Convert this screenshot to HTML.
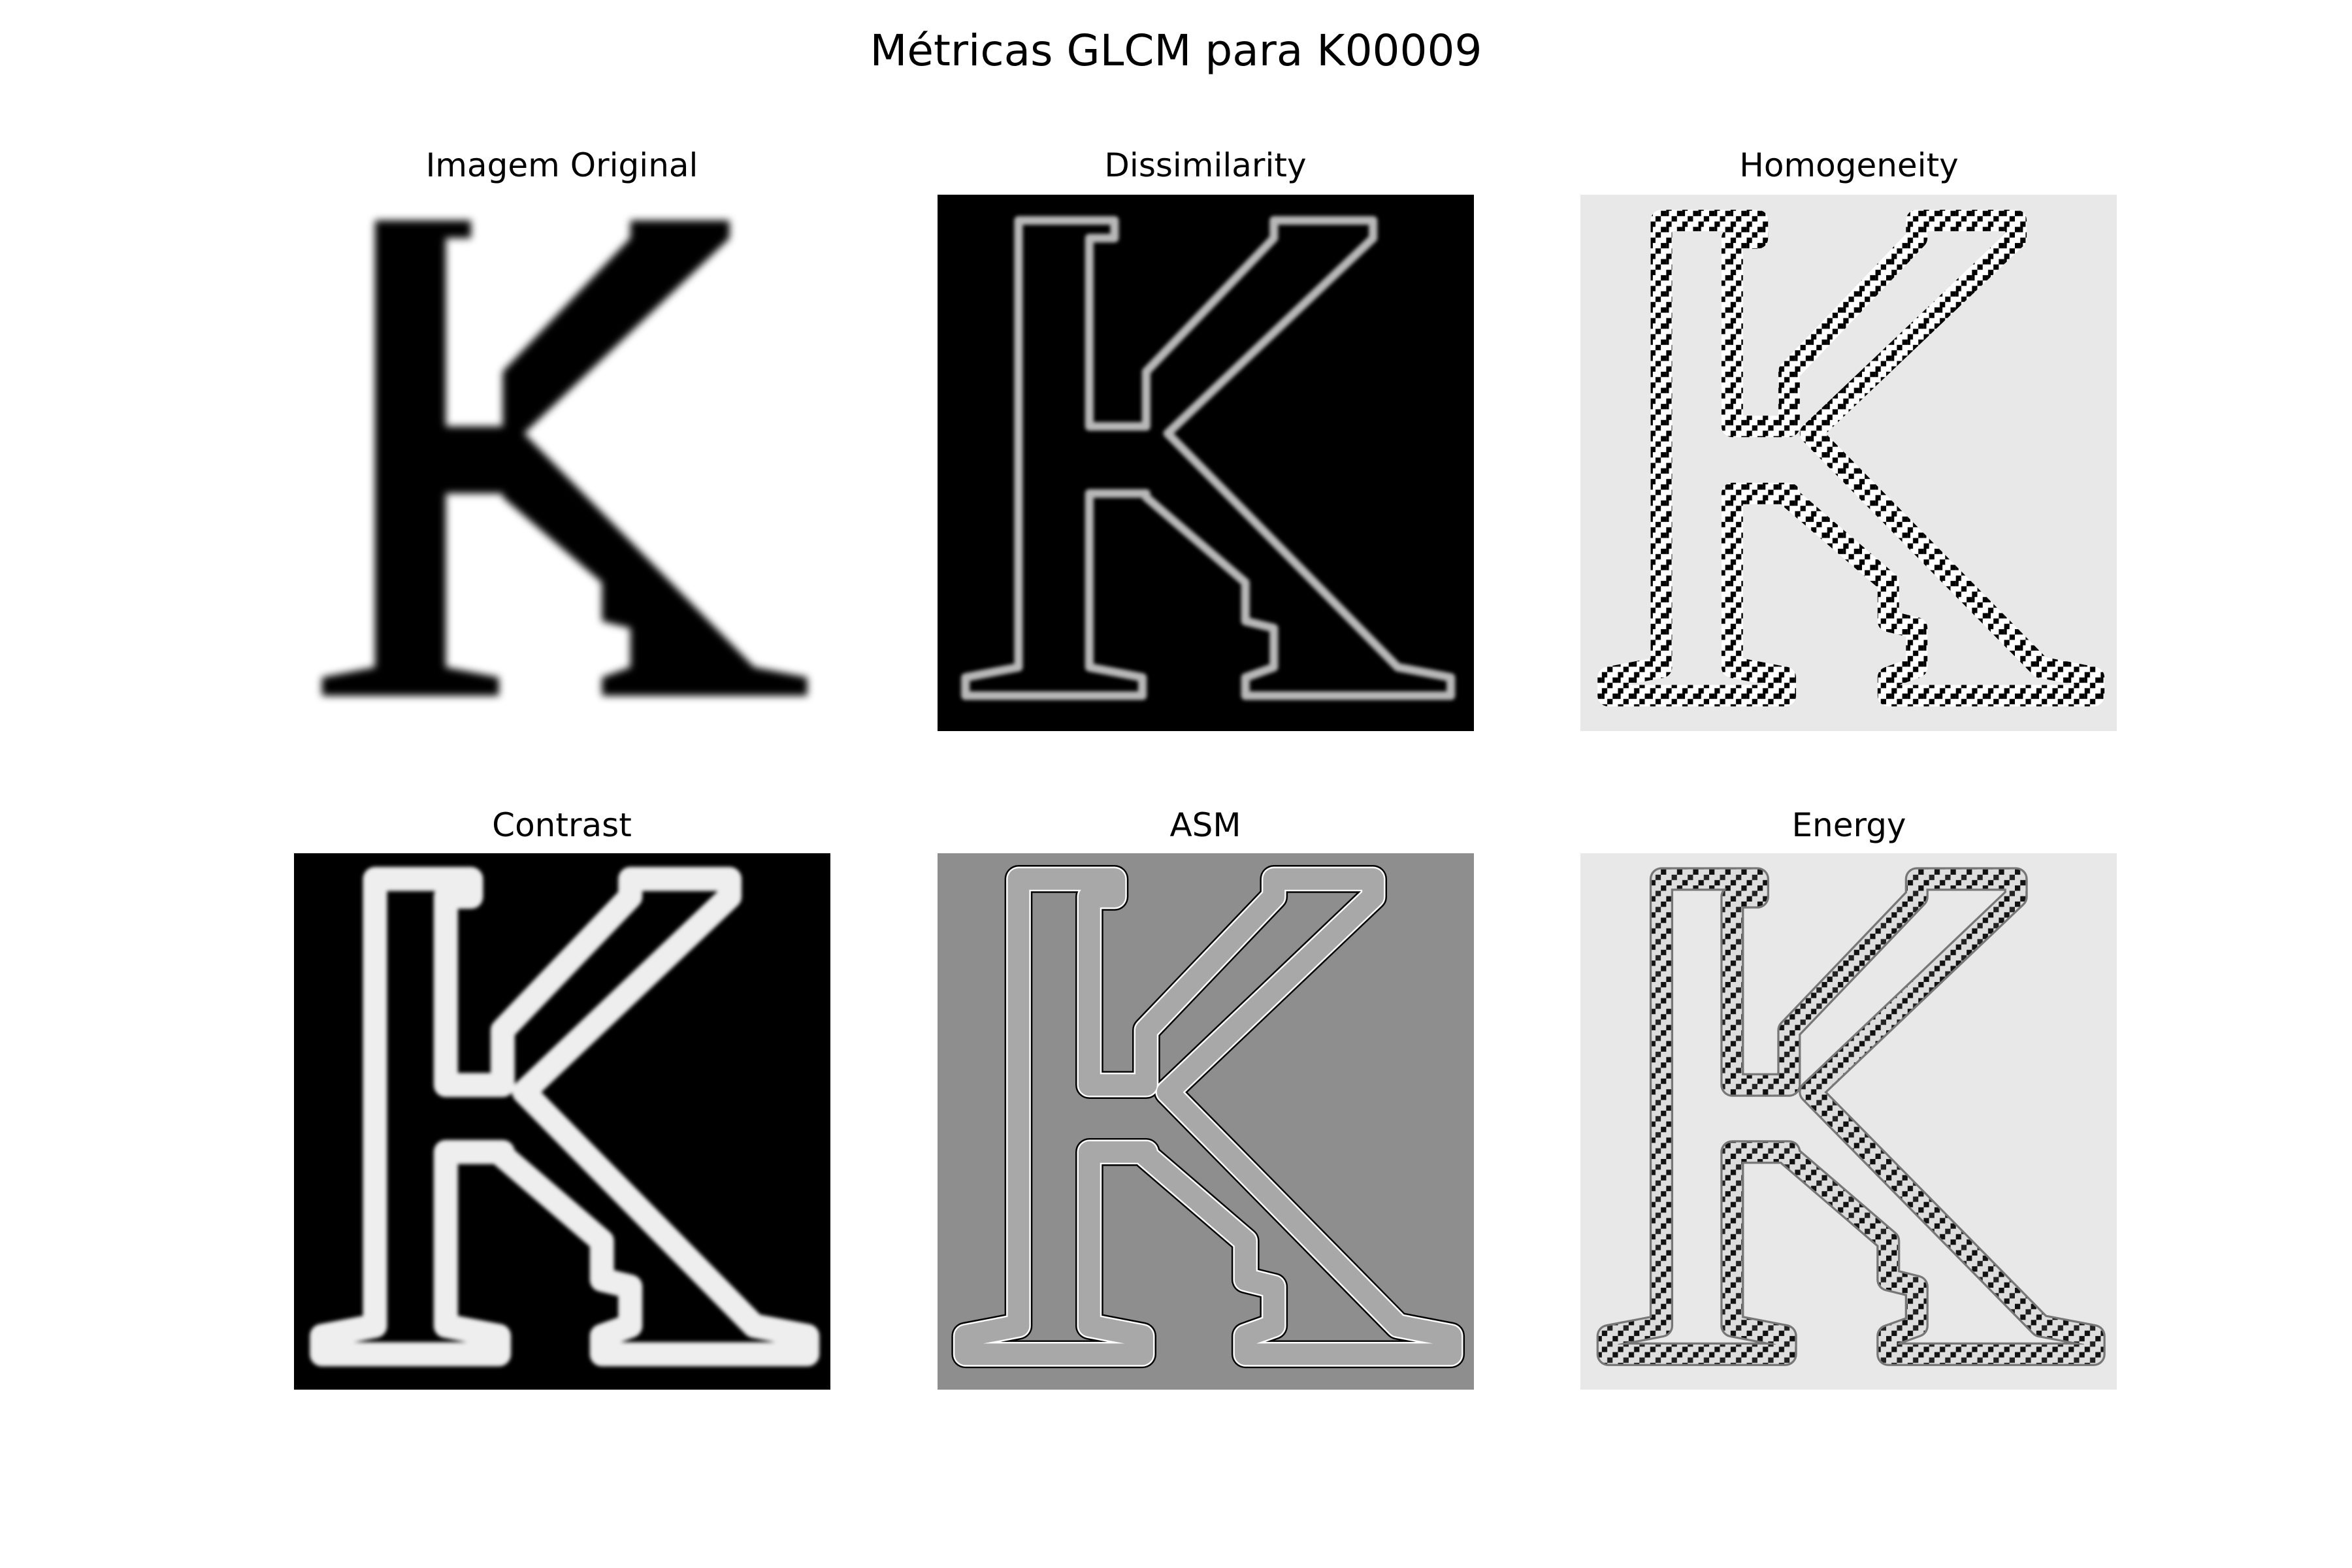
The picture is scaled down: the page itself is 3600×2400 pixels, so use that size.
<!DOCTYPE html>
<html><head><meta charset="utf-8"><style>
html,body{margin:0;padding:0;background:#fff}
svg{display:block}
text{font-family:"DejaVu Sans","Liberation Sans",sans-serif;fill:#000}
</style></head><body>
<svg width="3600" height="2400" viewBox="0 0 3600 2400">
<defs>
<filter id="blur" x="-10%" y="-10%" width="120%" height="120%"><feGaussianBlur stdDeviation="0.7"/></filter>
<filter id="blur2" x="-10%" y="-10%" width="120%" height="120%"><feGaussianBlur stdDeviation="0.35"/></filter>
<pattern id="noise" width="3" height="3" patternUnits="userSpaceOnUse">
<rect width="3" height="3" fill="#fff"/>
<rect x="0" y="0" width="1" height="1" fill="#000"/><rect x="2" y="1" width="1" height="1" fill="#000"/>
<rect x="1" y="2" width="1" height="1" fill="#000"/><rect x="1" y="0" width="0.5" height="1" fill="#000"/>
</pattern>
<pattern id="noise2" width="3" height="3" patternUnits="userSpaceOnUse">
<rect width="3" height="3" fill="#ddd"/>
<rect x="0" y="0" width="1" height="1" fill="#111"/><rect x="2" y="1" width="1" height="1" fill="#222"/>
<rect x="1" y="2" width="1" height="1" fill="#111"/>
</pattern>
<path id="kpath" d="M15.1,4.8 L33,4.8 L33,8.1 L28.3,8.1 L28.3,43.2 L38.9,43.2 L38.9,33 L62.7,8.1 L62.7,4.8 L81.2,4.8 L81.2,8.1 L42.9,44.5 L85.8,88.1 L95.7,90 L95.7,93.4 L57.4,93.4 L57.4,90 L62.7,88.1 L62.7,80.8 L57.4,79.5 L57.4,72.3 L38.9,56.4 L38.9,55.7 L28.3,55.7 L28.3,88.1 L38.2,90 L38.2,93.4 L5.2,93.4 L5.2,90 L15.1,88.1 Z"/>
</defs>
<rect width="3600" height="2400" fill="#fff"/>
<text x="1800" y="100" font-size="66" text-anchor="middle">Métricas GLCM para K00009</text>

<text x="860" y="270" font-size="50" text-anchor="middle">Imagem Original</text>
<svg x="450" y="298" width="821" height="821" viewBox="0 0 100 100" preserveAspectRatio="none">
<use href="#kpath" fill="#000" filter="url(#blur)"/>
</svg>

<text x="1845" y="270" font-size="50" text-anchor="middle">Dissimilarity</text>
<svg x="1435" y="298" width="821" height="821" viewBox="0 0 100 100" preserveAspectRatio="none">
<rect width="100" height="100" fill="#000"/>
<use href="#kpath" fill="none" stroke="#b8b8b8" stroke-width="1.6" stroke-linejoin="round" filter="url(#blur2)"/>
</svg>

<text x="2830" y="270" font-size="50" text-anchor="middle">Homogeneity</text>
<svg x="2419" y="298" width="821" height="821" viewBox="0 0 100 100" preserveAspectRatio="none">
<rect width="100" height="100" fill="#e8e8e8"/>
<use href="#kpath" fill="none" stroke="url(#noise)" stroke-width="4" stroke-linejoin="round"/>
</svg>

<text x="860" y="1280" font-size="50" text-anchor="middle">Contrast</text>
<svg x="450" y="1306" width="821" height="821" viewBox="0 0 100 100" preserveAspectRatio="none">
<rect width="100" height="100" fill="#000"/>
<use href="#kpath" fill="none" stroke="#eee" stroke-width="4.5" stroke-linejoin="round" filter="url(#blur2)"/>
</svg>

<text x="1845" y="1280" font-size="50" text-anchor="middle">ASM</text>
<svg x="1435" y="1306" width="821" height="821" viewBox="0 0 100 100" preserveAspectRatio="none">
<rect width="100" height="100" fill="#8e8e8e"/>
<use href="#kpath" fill="none" stroke="#000" stroke-width="5.2" stroke-linejoin="round"/>
<use href="#kpath" fill="none" stroke="#fff" stroke-width="4.6" stroke-linejoin="round"/>
<use href="#kpath" fill="none" stroke="#a8a8a8" stroke-width="4" stroke-linejoin="round"/>
</svg>

<text x="2830" y="1280" font-size="50" text-anchor="middle">Energy</text>
<svg x="2419" y="1306" width="821" height="821" viewBox="0 0 100 100" preserveAspectRatio="none">
<rect width="100" height="100" fill="#e8e8e8"/>
<use href="#kpath" fill="none" stroke="#777" stroke-width="4.4" stroke-linejoin="round"/>
<use href="#kpath" fill="none" stroke="url(#noise2)" stroke-width="3.6" stroke-linejoin="round"/>
</svg>
</svg>
</body></html>
